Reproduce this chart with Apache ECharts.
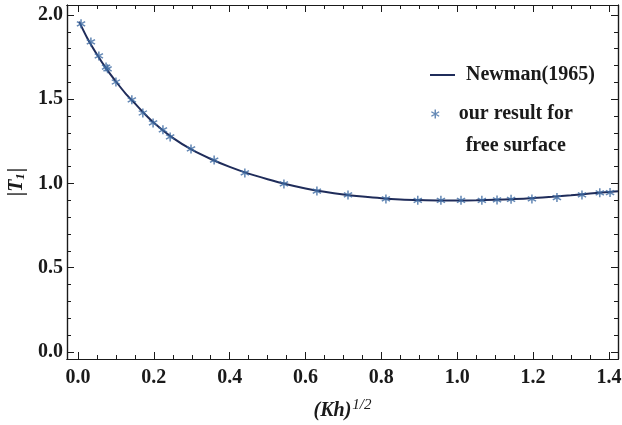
<!DOCTYPE html>
<html><head><meta charset="utf-8">
<script src="https://cdn.jsdelivr.net/npm/echarts@6/dist/echarts.min.js"></script>
<style>html,body{margin:0;padding:0;background:#fff}#c{width:622px;height:425px}</style>
</head><body><div id="c"></div>
<script>
// Axis ticks
const xMajorTicks = [0, 0.2, 0.4, 0.6, 0.8, 1.0, 1.2, 1.4];
const xMinorTicks = [0.05, 0.1, 0.15, 0.25, 0.3, 0.35, 0.45, 0.5, 0.55, 0.65, 0.7, 0.75, 0.85, 0.9, 0.95, 1.05, 1.1, 1.15, 1.25, 1.3, 1.35];
const yMajorTicks = [0, 0.5, 1.0, 1.5, 2.0];
const yMinorTicks = [0.1, 0.2, 0.3, 0.4, 0.6, 0.7, 0.8, 0.9, 1.1, 1.2, 1.3, 1.4, 1.6, 1.7, 1.8, 1.9];

// Newman (1965) curve
const newmanX = [0.003, 0.025, 0.05, 0.075, 0.1, 0.125, 0.15, 0.175, 0.2, 0.25, 0.3, 0.35, 0.4, 0.45, 0.5, 0.55, 0.6, 0.65, 0.7, 0.75, 0.8, 0.85, 0.9, 0.95, 1.0, 1.05, 1.1, 1.15, 1.2, 1.25, 1.3, 1.35, 1.424];
const newmanY = [1.96, 1.86, 1.765, 1.68, 1.605, 1.535, 1.475, 1.415, 1.36, 1.27, 1.20, 1.145, 1.098, 1.058, 1.025, 0.995, 0.97, 0.95, 0.934, 0.922, 0.912, 0.905, 0.901, 0.899, 0.899, 0.900, 0.903, 0.907, 0.913, 0.921, 0.930, 0.940, 0.953];

// Our result for free surface
const oursX = [0.008, 0.034, 0.055, 0.074, 0.078, 0.100, 0.142, 0.171, 0.198, 0.224, 0.243, 0.298, 0.359, 0.440, 0.543, 0.630, 0.712, 0.812, 0.896, 0.957, 1.010, 1.065, 1.105, 1.142, 1.197, 1.263, 1.329, 1.376, 1.403];
const oursY = [1.947, 1.840, 1.757, 1.691, 1.680, 1.602, 1.496, 1.418, 1.359, 1.318, 1.276, 1.205, 1.139, 1.062, 0.997, 0.955, 0.932, 0.908, 0.900, 0.900, 0.900, 0.900, 0.902, 0.906, 0.908, 0.916, 0.932, 0.944, 0.946];

const xMin = -0.029, xMax = 1.424, yMin = -0.042, yMax = 2.059;
const FONT = '"Liberation Serif", "Times New Roman", serif';
const INK = '#1a1a1a';
const LINE = '#1f2c5a';
const starPath = 'path://M-0.8,-5L0.8,-5L0.8,5L-0.8,5Z M3.93,3.19L-4.73,-1.81L-3.93,-3.19L4.73,1.81Z M-4.73,1.81L3.93,-3.19L4.73,-1.81L-3.93,3.19Z';

function mkX(pos, ticks, len, labels, extra) {
  return Object.assign({
    type: 'value', position: pos, min: xMin, max: xMax,
    axisLine: { show: true, onZero: false, lineStyle: { color: INK, width: 1.2 } },
    axisTick: { show: true, inside: true, length: len, customValues: ticks, lineStyle: { color: INK, width: 1 } },
    axisLabel: labels ? { show: true, customValues: ticks, formatter: v => v.toFixed(1), margin: 9, fontFamily: FONT, fontWeight: 'bold', fontSize: 20, color: INK } : { show: false },
    splitLine: { show: false }
  }, extra || {});
}
function mkY(pos, ticks, len, labels, extra) {
  return Object.assign({
    type: 'value', position: pos, min: yMin, max: yMax,
    axisLine: { show: true, onZero: false, lineStyle: { color: INK, width: 1.2 } },
    axisTick: { show: true, inside: true, length: len, customValues: ticks, lineStyle: { color: INK, width: 1 } },
    axisLabel: labels ? { show: true, customValues: ticks, formatter: v => v.toFixed(1), margin: 4, fontFamily: FONT, fontWeight: 'bold', fontSize: 20, color: INK } : { show: false },
    splitLine: { show: false }
  }, extra || {});
}

const chart = echarts.init(document.getElementById('c'), null, { renderer: 'canvas' });
chart.setOption({
  animation: false,
  backgroundColor: '#fff',
  grid: { left: 67, right: 4, top: 5, bottom: 66, containLabel: false, outerBoundsMode: 'none' },
  xAxis: [
    mkX('bottom', xMajorTicks, 7, true, {
      name: '{i|(Kh)}{s|1/2}', nameLocation: 'middle', nameGap: 39,
      nameTextStyle: { fontFamily: FONT, fontSize: 20, color: INK,
        rich: { i: { fontFamily: FONT, fontStyle: 'italic', fontWeight: 'bold', fontSize: 20, color: INK },
                s: { fontFamily: FONT, fontStyle: 'italic', fontSize: 15, color: INK, padding: [0, 0, 11, 1] } } }
    }),
    mkX('bottom', xMinorTicks, 4, false),
    mkX('top', xMajorTicks, 7, false),
    mkX('top', xMinorTicks, 4, false)
  ],
  yAxis: [
    mkY('left', yMajorTicks, 7, true, {
      name: '{b||}{i|T}{s|1}{b||}', nameLocation: 'middle', nameGap: 40, nameRotate: 90, nameMoveOverlap: false,
      nameTextStyle: { fontFamily: FONT, fontSize: 20, color: INK,
        rich: { b: { fontFamily: FONT, fontWeight: 'bold', fontSize: 20, color: INK },
                i: { fontFamily: FONT, fontStyle: 'italic', fontWeight: 'bold', fontSize: 20, color: INK },
                s: { fontFamily: FONT, fontStyle: 'italic', fontWeight: 'bold', fontSize: 13, color: INK, padding: [8, 1, 0, 0] } } }
    }),
    mkY('left', yMinorTicks, 4, false),
    mkY('right', yMajorTicks, 7, false),
    mkY('right', yMinorTicks, 4, false)
  ],
  legend: [
    {
      data: [{ name: 'Newman(1965)', icon: 'path://M0,0L100,0L100,8L0,8Z' }],
      left: 430, top: 65, padding: 0,
      itemWidth: 25, itemHeight: 2,
      itemStyle: { color: LINE, borderWidth: 0 },
      formatter: '{n|Newman(1965)}',
      textStyle: { fontFamily: FONT, fontWeight: 'bold', fontSize: 20, color: INK,
        rich: { n: { fontFamily: FONT, fontWeight: 'bold', fontSize: 20, color: INK, padding: [0, 0, 0, 6] } } }
    },
    {
      data: ['our result for free surface'], left: 431, top: 66, padding: 0,
      itemWidth: 9, itemHeight: 9,
      formatter: () => '{e| }\n{a|our result for}\n{a|free surface}',
      textStyle: { fontFamily: FONT, fontWeight: 'bold', fontSize: 20, color: INK, lineHeight: 32,
        rich: { e: { fontSize: 20, lineHeight: 32 },
                a: { fontFamily: FONT, fontWeight: 'bold', fontSize: 20, color: INK, lineHeight: 32, width: 142, align: 'center' } } }
    }
  ],
  series: [
    {
      name: 'Newman(1965)', type: 'line', xAxisIndex: 0, yAxisIndex: 0,
      data: newmanX.map((x, i) => [x, newmanY[i]]),
      smooth: 0.3, symbol: 'none', showSymbol: false,
      lineStyle: { color: LINE, width: 2 }, itemStyle: { color: LINE }, z: 2
    },
    {
      name: 'our result for free surface', type: 'scatter', xAxisIndex: 0, yAxisIndex: 0,
      data: oursX.map((x, i) => [x, oursY[i]]),
      symbol: starPath, symbolSize: 9,
      itemStyle: { color: '#3d6aa3' }, z: 3
    }
  ]
});
</script>
</body></html>
